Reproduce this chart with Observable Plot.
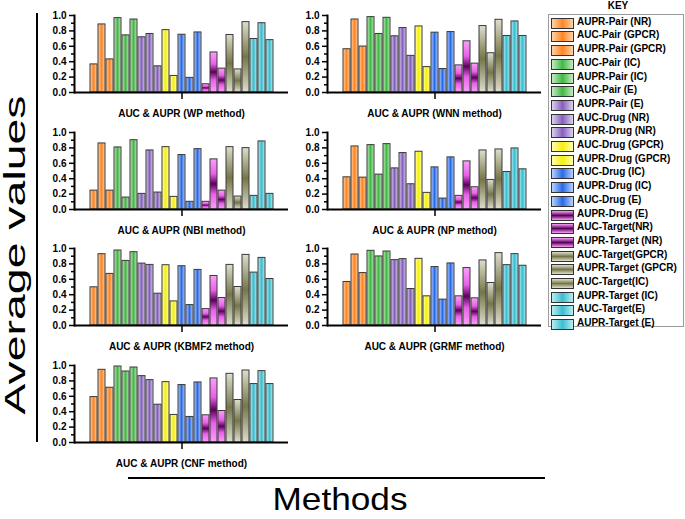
<!DOCTYPE html>
<html><head><meta charset="utf-8">
<script src="https://cdn.jsdelivr.net/npm/d3@7"></script>
<script src="https://cdn.jsdelivr.net/npm/@observablehq/plot@0.6"></script>
<style>
body{margin:0;background:#fff;font-family:"Liberation Sans",Arial,sans-serif;}
#root{position:relative;width:685px;height:519px;overflow:hidden;background:#fff;}
.panel{position:absolute;}
.panel svg{overflow:visible;}
#key{position:absolute;left:548px;top:14px;width:136px;height:313px;border:1px solid #9a9a9a;box-sizing:border-box;}
#keytitle{position:absolute;left:548px;width:140px;top:0px;text-align:center;font-weight:bold;font-size:10px;}
.krow{position:absolute;left:2px;height:10px;}
.ksw{position:absolute;left:0;top:0;width:21px;height:9px;border:1px solid #333;}
.ktx{position:absolute;left:26px;top:-2px;font-weight:bold;font-size:10px;white-space:nowrap;color:#000;}
#ylab{position:absolute;left:15px;top:255px;font-size:29px;line-height:29px;white-space:nowrap;transform:translate(-50%,-50%) rotate(-90deg) scaleX(1.6);}
#xlab{position:absolute;left:340px;top:499px;font-size:32px;line-height:32px;white-space:nowrap;transform:translate(-50%,-50%) scaleX(1.1);}
#vline{position:absolute;left:36px;top:13px;width:2px;height:429px;background:#000;}
#hline{position:absolute;left:128px;top:477px;width:417px;height:2px;background:#000;}
</style></head><body>
<svg width="0" height="0" style="position:absolute">
<defs>
<linearGradient id="g-o" x1="0" x2="1" y1="0" y2="0"><stop offset="0" stop-color="#ffd2a8"/><stop offset="0.5" stop-color="#ff8624"/><stop offset="1" stop-color="#ffd2a8"/></linearGradient>
<linearGradient id="g-g" x1="0" x2="1" y1="0" y2="0"><stop offset="0" stop-color="#c4ebc4"/><stop offset="0.5" stop-color="#44b844"/><stop offset="1" stop-color="#c4ebc4"/></linearGradient>
<linearGradient id="g-p" x1="0" x2="1" y1="0" y2="0"><stop offset="0" stop-color="#dcd0ee"/><stop offset="0.5" stop-color="#8660bc"/><stop offset="1" stop-color="#dcd0ee"/></linearGradient>
<linearGradient id="g-y" x1="0" x2="1" y1="0" y2="0"><stop offset="0" stop-color="#ffffb0"/><stop offset="0.5" stop-color="#f6f010"/><stop offset="1" stop-color="#ffffb0"/></linearGradient>
<linearGradient id="g-b" x1="0" x2="1" y1="0" y2="0"><stop offset="0" stop-color="#b8d2ff"/><stop offset="0.5" stop-color="#2a6ae6"/><stop offset="1" stop-color="#b8d2ff"/></linearGradient>
<linearGradient id="g-m" x1="0" x2="0" y1="0" y2="1"><stop offset="0" stop-color="#f8a0f8"/><stop offset="0.3" stop-color="#e860e8"/><stop offset="0.5" stop-color="#5a005a"/><stop offset="0.7" stop-color="#e860e8"/><stop offset="1" stop-color="#f8a0f8"/></linearGradient>
<linearGradient id="g-k" x1="0" x2="0" y1="0" y2="1"><stop offset="0" stop-color="#dedecc"/><stop offset="0.5" stop-color="#76764a"/><stop offset="1" stop-color="#dedecc"/></linearGradient>
<linearGradient id="g-c" x1="0" x2="1" y1="0" y2="0"><stop offset="0" stop-color="#b8eef4"/><stop offset="0.5" stop-color="#3cbece"/><stop offset="1" stop-color="#b8eef4"/></linearGradient>
</defs></svg>
<div id="root">
<div id="vline"></div><div id="hline"></div>
<div id="ylab">Average values</div>
<div id="xlab">Methods</div>
<div id="keytitle">KEY</div>
<div id="key"></div>
</div>
<script>
const labels = ["AUPR-Pair (NR)","AUC-Pair (GPCR)","AUPR-Pair (GPCR)","AUC-Pair (IC)","AUPR-Pair (IC)","AUC-Pair (E)","AUPR-Pair (E)","AUC-Drug (NR)","AUPR-Drug (NR)","AUC-Drug (GPCR)","AUPR-Drug (GPCR)","AUC-Drug (IC)","AUPR-Drug (IC)","AUC-Drug (E)","AUPR-Drug (E)","AUC-Target(NR)","AUPR-Target (NR)","AUC-Target(GPCR)","AUPR-Target (GPCR)","AUC-Target(IC)","AUPR-Target (IC)","AUC-Target(E)","AUPR-Target (E)"];
const groups = ["o","o","o","g","g","g","p","p","p","y","y","b","b","b","m","m","m","k","k","k","c","c","c"];

const wp    = [0.365,0.884,0.43,0.966,0.742,0.948,0.717,0.76,0.34,0.81,0.215,0.75,0.19,0.78,0.107,0.52,0.31,0.747,0.30,0.914,0.695,0.90,0.68];
const wnn   = [0.562,0.948,0.597,0.979,0.76,0.97,0.73,0.837,0.476,0.858,0.33,0.777,0.305,0.785,0.352,0.665,0.375,0.863,0.51,0.944,0.734,0.923,0.734];
const nbi   = [0.245,0.858,0.245,0.806,0.155,0.90,0.203,0.767,0.22,0.81,0.164,0.707,0.10,0.784,0.10,0.651,0.245,0.81,0.168,0.797,0.177,0.884,0.203];
const np    = [0.418,0.819,0.414,0.836,0.453,0.849,0.534,0.733,0.328,0.75,0.216,0.547,0.142,0.677,0.177,0.625,0.289,0.767,0.384,0.78,0.487,0.793,0.522];
const kbmf2 = [0.496,0.926,0.67,0.974,0.839,0.952,0.804,0.787,0.413,0.783,0.313,0.77,0.265,0.722,0.213,0.643,0.357,0.787,0.50,0.917,0.687,0.878,0.604];
const grmf  = [0.565,0.922,0.681,0.97,0.897,0.961,0.849,0.862,0.474,0.866,0.379,0.759,0.336,0.806,0.379,0.746,0.353,0.845,0.552,0.94,0.784,0.927,0.776];
const cnf   = [0.59,0.944,0.711,0.987,0.922,0.974,0.862,0.81,0.491,0.784,0.358,0.746,0.332,0.78,0.353,0.832,0.409,0.892,0.552,0.935,0.759,0.927,0.759];

const methodNames = ["WP","WNN","NBI","NP","KBMF2","GRMF","CNF"];
const methodValues = [wp, wnn, nbi, np, kbmf2, grmf, cnf];
const yTicks = [0, 0.2, 0.4, 0.6, 0.8, 1.0];
const yMinor = [0.1, 0.3, 0.5, 0.7, 0.9];

// layout
const colAxis = [74, 327];
const rowTop = [15, 131.7, 248.3, 365];

const swatchGrad = {
  o:["#ffd2a8","#ff8624","to right"], g:["#c4ebc4","#44b844","to right"], p:["#dcd0ee","#8660bc","to right"],
  y:["#ffffb0","#f6f010","to right"], b:["#b8d2ff","#2a6ae6","to right"], m:["#f8a0f8","#5a005a","to bottom"],
  k:["#dedecc","#76764a","to bottom"], c:["#b8eef4","#3cbece","to right"]
};

const root = document.getElementById("root");
methodNames.forEach((name, mi) => {
  const data = labels.map((label, i) => ({label, group: groups[i], value: methodValues[mi][i]}));
  const col = mi % 2, row = Math.floor(mi / 2);
  const chart = Plot.plot({
    width: 262, height: 121,
    marginLeft: 44, marginRight: 4, marginTop: 10, marginBottom: 34,
    x: {domain: labels, range: [50, 253], paddingInner: 0.15, paddingOuter: 0},
    y: {domain: [0, 1]},
    color: {type: "identity"},
    style: {fontFamily: "'Liberation Sans', Arial, sans-serif", fontSize: "10px", fontWeight: "bold", color: "#000", background: "transparent"},
    marks: [
      Plot.barY(data, {x: "label", y: "value", fill: d => `url(#g-${d.group})`, stroke: "#3a3a3a", strokeWidth: 1}),
      Plot.ruleY([0], {stroke: "#000", strokeWidth: 2}),
      Plot.frame({anchor: "left", stroke: "#000", strokeWidth: 2}),
      Plot.axisY({ticks: yTicks, tickFormat: d3.format(".1f"), tickSize: 5, tickPadding: 3, label: null, strokeWidth: 1.5}),
      Plot.axisY({ticks: yMinor, tickFormat: () => "", tickSize: 3, label: null, strokeWidth: 1.5}),
      Plot.axisX({ticks: [labels[11]], tickFormat: () => "", tickSize: 7, label: null, strokeWidth: 1.5}),
      Plot.text([`AUC & AUPR (${name} method)`], {text: d => d, frameAnchor: "bottom", dy: 24, fontSize: 10, fontWeight: "bold"})
    ]
  });
  const wrap = document.createElement("div");
  wrap.className = "panel";
  wrap.style.left = (colAxis[col] - 44) + "px";
  wrap.style.top = (rowTop[row] - 10) + "px";
  wrap.appendChild(chart);
  root.appendChild(wrap);
});

// key
const key = document.getElementById("key");
labels.forEach((label, i) => {
  const r = document.createElement("div");
  r.className = "krow";
  r.style.top = (2.7 + i * 13.7) + "px";
  const [l, d, dir] = swatchGrad[groups[i]];
  r.innerHTML = `<div class="ksw" style="background:linear-gradient(${dir}, ${l}, ${d}, ${l})"></div><div class="ktx"></div>`;
  r.querySelector(".ktx").textContent = label;
  key.appendChild(r);
});
</script>
</body></html>
